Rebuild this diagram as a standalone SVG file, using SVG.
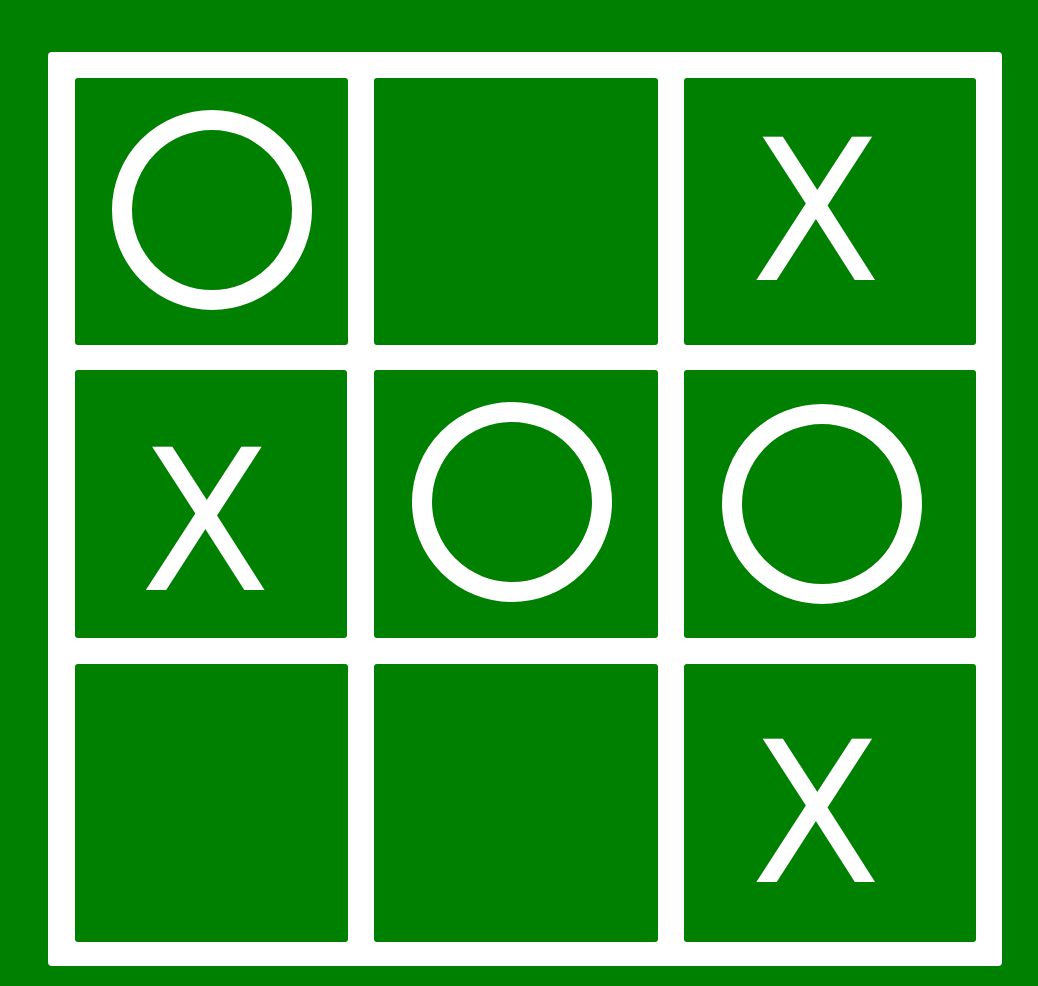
<svg xmlns="http://www.w3.org/2000/svg" width="1038" height="986" viewBox="0 0 1038 986">
<style>
.cell{fill:#008000}
.o{fill:none;stroke:#ffffff;stroke-width:20}
.x{fill:#ffffff;font-family:"DejaVu Sans",sans-serif;font-size:196px;text-anchor:middle}
</style>
<rect x="0" y="0" width="1038" height="986" fill="#008000"/>
<rect id="frame" x="48" y="52" width="954" height="914" rx="4" fill="#ffffff"/>
<g id="cell-1-1"><rect class="cell" x="75" y="78" width="273" height="267" rx="3"/><circle class="o" cx="212" cy="210" r="90"/></g>
<g id="cell-1-2"><rect class="cell" x="374" y="78" width="284" height="267" rx="3"/></g>
<g id="cell-1-3"><rect class="cell" x="684" y="78" width="292" height="267" rx="3"/><text class="x" transform="translate(816 280) scale(0.97 1)">X</text></g>
<g id="cell-2-1"><rect class="cell" x="75" y="370" width="272" height="268" rx="3"/><text class="x" transform="translate(205.5 590) scale(0.97 1)">X</text></g>
<g id="cell-2-2"><rect class="cell" x="374" y="370" width="284" height="268" rx="3"/><circle class="o" cx="512" cy="502" r="90"/></g>
<g id="cell-2-3"><rect class="cell" x="684" y="370" width="292" height="268" rx="3"/><circle class="o" cx="822" cy="504" r="90"/></g>
<g id="cell-3-1"><rect class="cell" x="75" y="664" width="273" height="278" rx="3"/></g>
<g id="cell-3-2"><rect class="cell" x="374" y="664" width="284" height="278" rx="3"/></g>
<g id="cell-3-3"><rect class="cell" x="684" y="664" width="292" height="278" rx="3"/><text class="x" transform="translate(816 882) scale(0.97 1)">X</text></g>
<g id="connectors"></g>
</svg>
